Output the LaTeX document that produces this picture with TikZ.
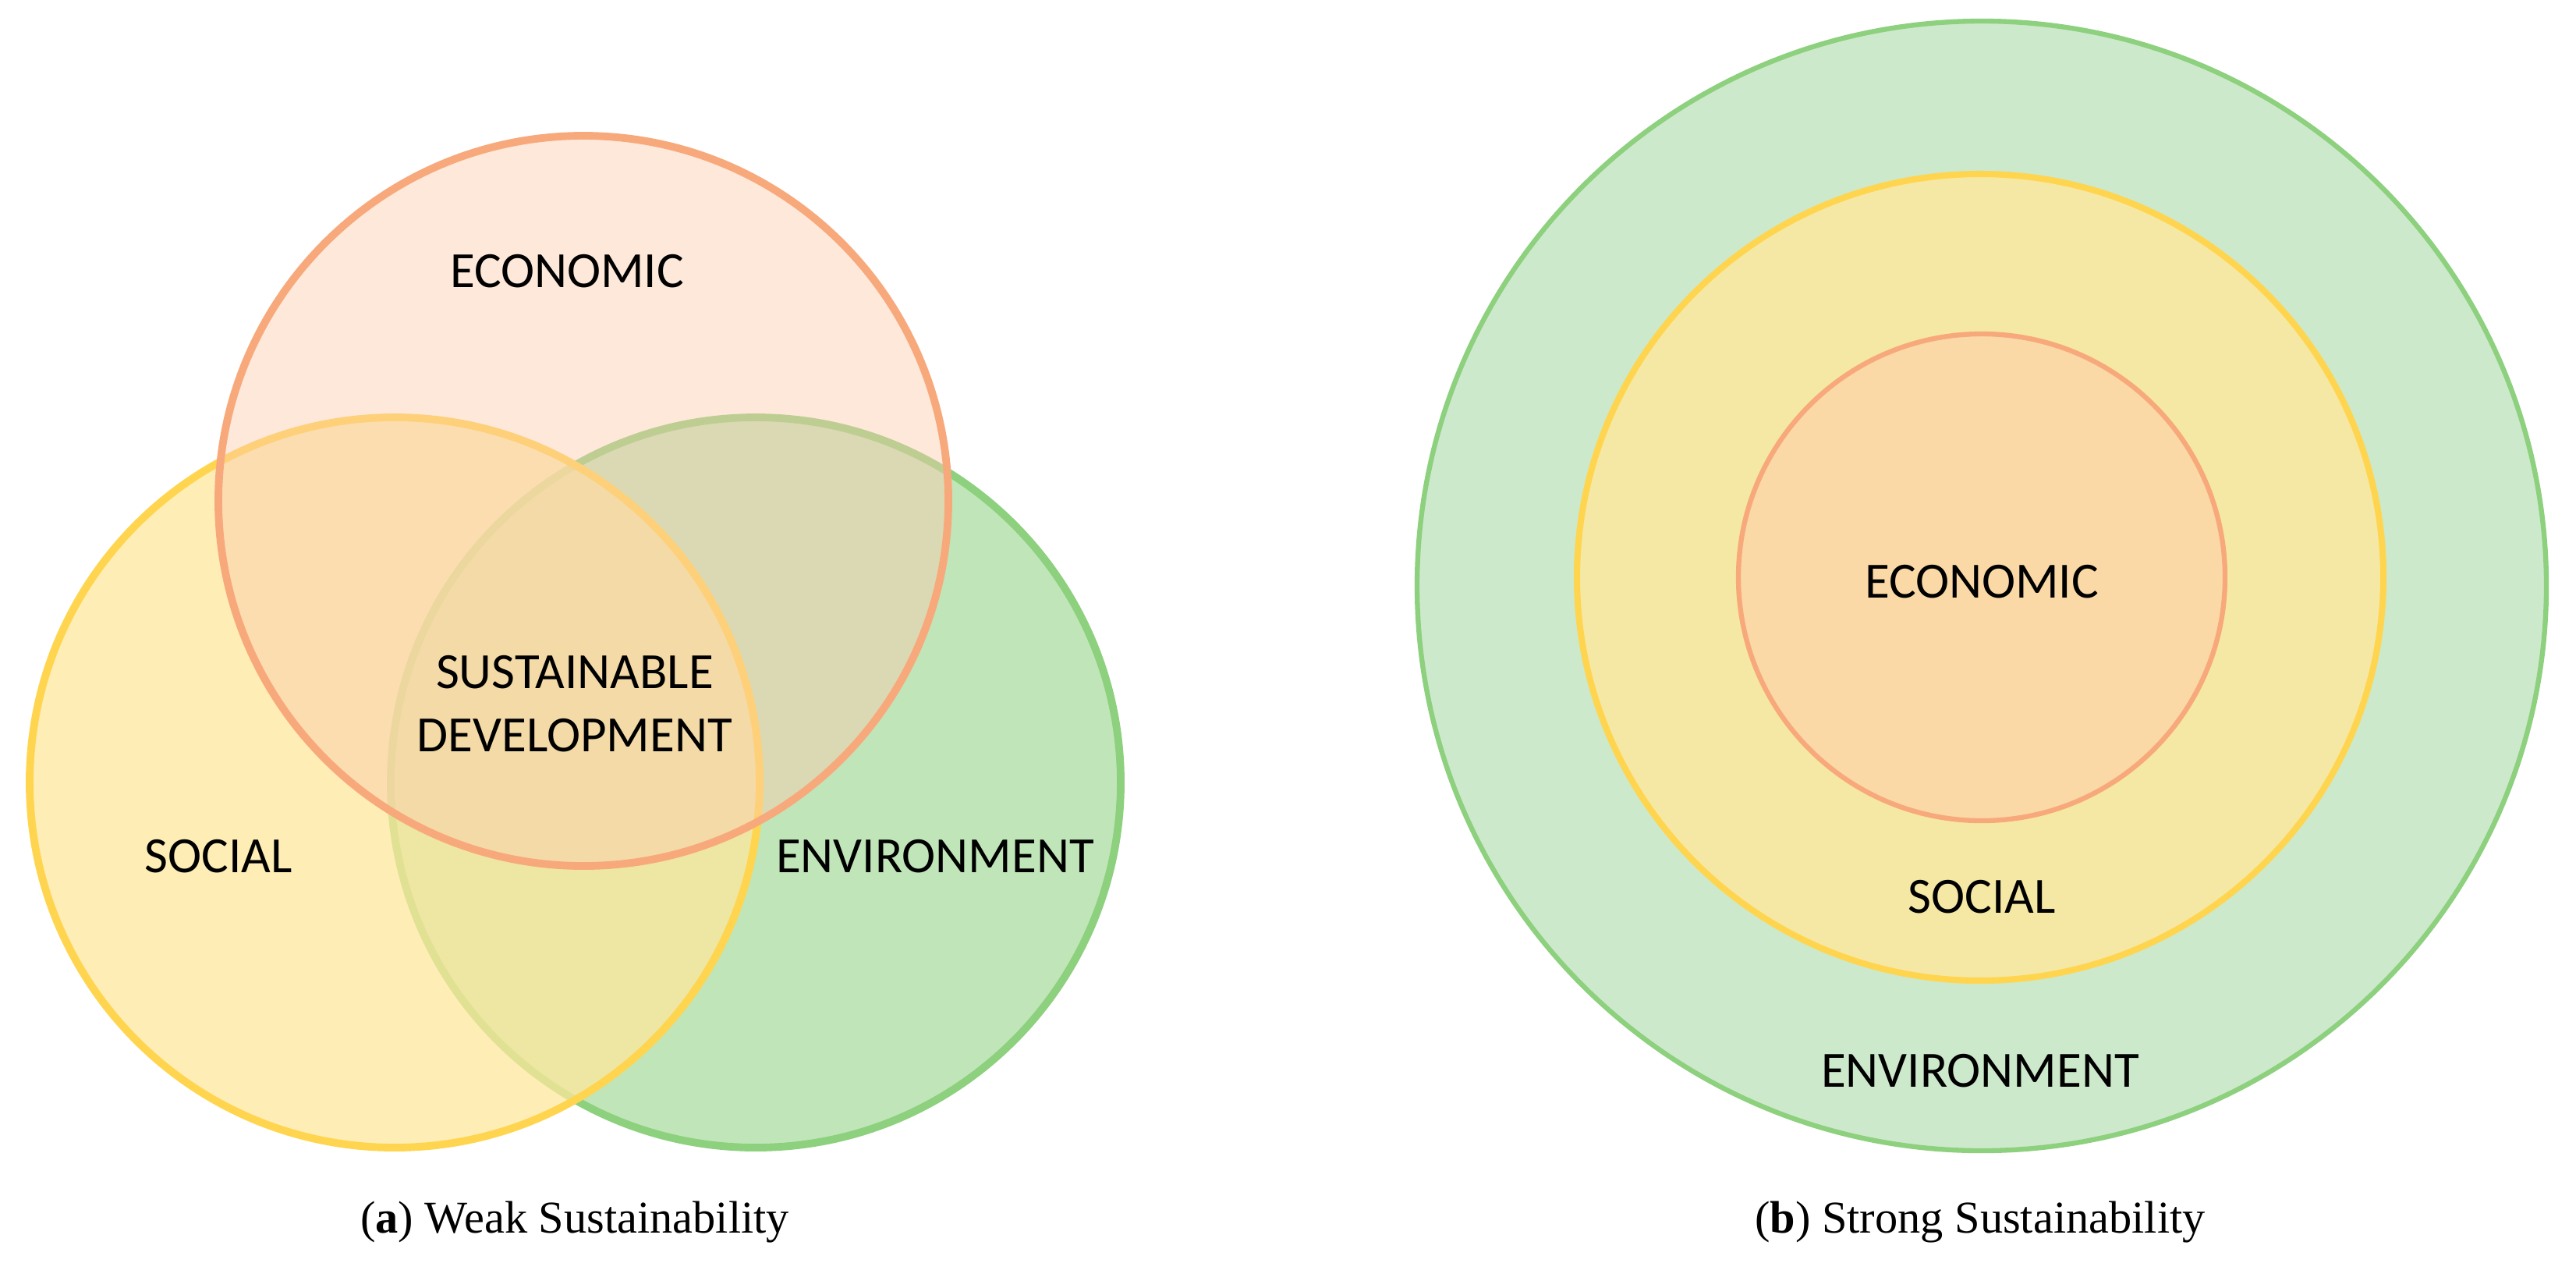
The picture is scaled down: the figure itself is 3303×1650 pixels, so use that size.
\documentclass[tikz,border=0pt]{standalone}
\usepackage{fontspec}
\setmainfont{Liberation Serif}
\newfontfamily\lab{Carlito}
\definecolor{eco}{HTML}{F8A97C}
\definecolor{soc}{HTML}{FFD54F}
\definecolor{env}{HTML}{8DD07E}
\definecolor{ecoA}{HTML}{FBCCAD}
\definecolor{socA}{HTML}{FEE79C}
\definecolor{envfill}{HTML}{CDE9CB}
\definecolor{socfill}{HTML}{F5E8A4}
\definecolor{ecofill}{HTML}{FAD9A6}
\begin{document}
\begin{tikzpicture}[x=0.01cm,y=-0.01cm,
  lbl/.style={font=\lab\fontsize{18.5}{23}\selectfont, text=black, align=center},
  capt/.style={font=\fontsize{16.6}{20}\selectfont, text=black},
  venn/.style={line width=2.8pt}]
\useasboundingbox (0,0) rectangle (3303,1650);
% (a) Weak sustainability
\draw[venn, draw=env, fill=env, fill opacity=0.55] (969,1003) circle[radius=468];
\draw[venn, draw=soc, fill=socA, fill opacity=0.75] (506,1003) circle[radius=468];
\draw[venn, draw=eco, fill=ecoA, fill opacity=0.45] (748,642) circle[radius=468];
\node[lbl] (aeco) at (727,348) {ECONOMIC};
\node[lbl] (asoc) at (280,1098) {SOCIAL};
\node[lbl] (aenv) at (1199,1098) {ENVIRONMENT};
\node[lbl] (asd) at (737,902) {SUSTAINABLE\\DEVELOPMENT};
\node[capt] (acap) at (737,1567) {(\textbf{a}) Weak Sustainability};
% (b) Strong sustainability
\draw[line width=1.8pt, draw=env, fill=envfill] (2541,751) circle[radius=724];
\draw[line width=2.3pt, draw=soc, fill=socfill] (2539,740) circle[radius=517];
\draw[line width=1.8pt, draw=eco, fill=ecofill] (2541,740) circle[radius=312];
\node[lbl] (beco) at (2541,746) {ECONOMIC};
\node[lbl] (bsoc) at (2541,1150) {SOCIAL};
\node[lbl] (benv) at (2539,1373) {ENVIRONMENT};
\node[capt] (bcap) at (2539,1567) {(\textbf{b}) Strong Sustainability};
\end{tikzpicture}
\end{document}
